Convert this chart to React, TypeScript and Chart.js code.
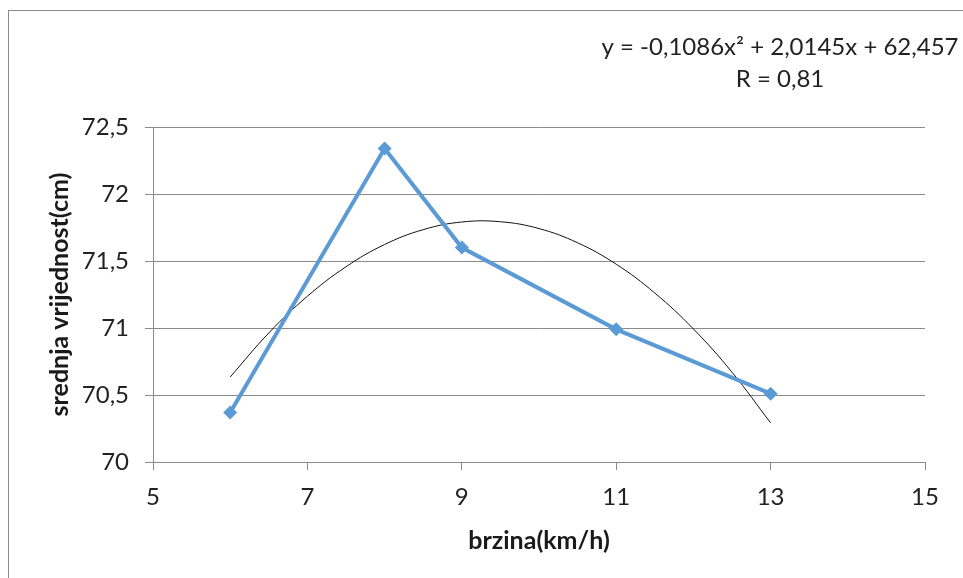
import React, { useEffect, useRef } from "react";
import { Chart, registerables } from "chart.js";

Chart.register(...registerables);

// measured series
const speeds = [6, 8, 9, 11, 13];
const meanValues = [70.37, 72.34, 71.6, 70.99, 70.51];

// polynomial trend line
const trendX = [6, 6.5, 7, 7.5, 8, 8.5, 9, 9.5, 10, 10.5, 11, 11.5, 12, 12.5, 13];
const trendY = [70.634, 70.963, 71.237, 71.457, 71.623, 71.734, 71.791, 71.793, 71.742, 71.636, 71.476, 71.261, 70.993, 70.67, 70.292];

const equationLine = "y = -0,1086x² + 2,0145x + 62,457";
const rLine = "R = 0,81";
const xTitle = "brzina(km/h)";
const yTitle = "srednja vrijednost(cm)";

const FONT = "Lato, 'Open Sans', sans-serif";

const fmt = (v: number) => String(Math.round(v * 10) / 10).replace(".", ",");

const equationPlugin = {
  id: "equation",
  afterDraw(chart: any) {
    const ctx = chart.ctx;
    ctx.save();
    ctx.fillStyle = "#222";
    ctx.font = `24px ${FONT}`;
    ctx.textAlign = "center";
    ctx.textBaseline = "middle";
    ctx.fillText(equationLine, 771, 36);
    ctx.fillText(rLine, 771, 68);
    ctx.restore();
  },
};

export default function App() {
  const ref = useRef<HTMLCanvasElement>(null);
  useEffect(() => {
    if (!ref.current) return;
    const grid = "#8a8a8a";
    const chart = new Chart(ref.current, {
      type: "line",
      data: {
        datasets: [
          {
            label: "srednja vrijednost",
            data: speeds.map((x, i) => ({ x, y: meanValues[i] })),
            borderColor: "#5B9BD5",
            backgroundColor: "#5B9BD5",
            borderWidth: 4,
            pointStyle: "rectRot",
            pointRadius: 7,
            pointBorderWidth: 0,
            tension: 0,
          },
          {
            label: "trend",
            data: trendX.map((x, i) => ({ x, y: trendY[i] })),
            borderColor: "#111",
            borderWidth: 1,
            pointRadius: 0,
            tension: 0.4,
          },
        ],
      },
      options: {
        animation: false,
        responsive: false,
        layout: { padding: { left: 0, top: 116, right: 38, bottom: 0 } },
        plugins: { legend: { display: false }, tooltip: { enabled: false } },
        scales: {
          x: {
            type: "linear",
            min: 5,
            max: 15,
            afterFit: (s: any) => {
              s.height = 116;
            },
            ticks: {
              stepSize: 2,
              color: "#222",
              font: { family: FONT, size: 24 },
              padding: 13,
              callback: (v: any) => fmt(Number(v)),
            },
            grid: { drawOnChartArea: false, drawTicks: true, tickLength: 8, color: grid },
            border: { display: true, color: grid, width: 1 },
            title: {
              display: true,
              text: xTitle,
              color: "#1a1a1a",
              font: { family: FONT, size: 25, weight: "bold" },
              padding: { top: 0, bottom: 22 },
            },
          },
          y: {
            type: "linear",
            min: 70,
            max: 72.5,
            afterFit: (s: any) => {
              s.width = 144;
            },
            ticks: {
              stepSize: 0.5,
              color: "#222",
              font: { family: FONT, size: 24 },
              padding: 16,
              callback: (v: any) => fmt(Number(v)),
            },
            grid: { drawOnChartArea: true, drawTicks: true, tickLength: 8, color: grid },
            border: { display: true, color: grid, width: 1 },
            title: {
              display: true,
              text: yTitle,
              color: "#1a1a1a",
              font: { family: FONT, size: 25, weight: "bold" },
              padding: { top: 36, bottom: 0 },
            },
          },
        },
      },
      plugins: [equationPlugin],
    } as any);
    return () => chart.destroy();
  }, []);
  return (
    <div
      style={{
        position: "fixed",
        left: 8,
        top: 10,
        width: 955,
        height: 568,
        borderTop: "1px solid #8c8c8c",
        borderLeft: "1px solid #8c8c8c",
        background: "#fff",
        overflow: "hidden",
      }}
    >
      <canvas ref={ref} width={954} height={567} style={{ display: "block" }} />
    </div>
  );
}
